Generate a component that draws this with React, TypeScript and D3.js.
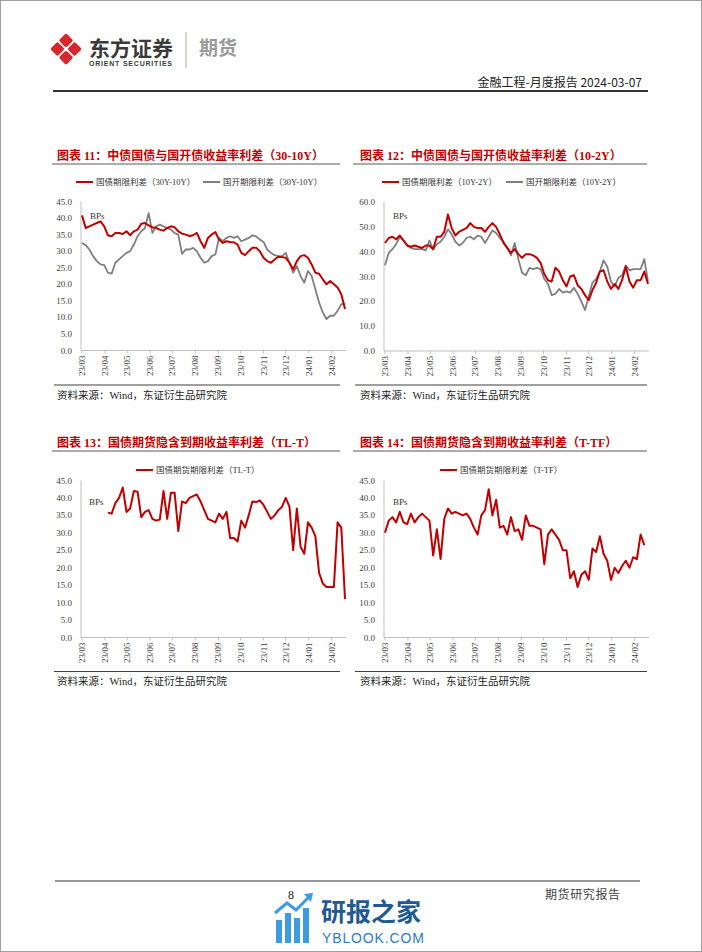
import React from 'react';
import * as d3 from 'd3';

// ---------- data ----------
// observations every 5 calendar days starting 2023-03-01
const START = new Date(2023, 2, 1);
const STEP_DAYS = 5;

const MONTH_TICKS = [
  '2023-03-01', '2023-04-01', '2023-05-01', '2023-06-01', '2023-07-01', '2023-08-01',
  '2023-09-01', '2023-10-01', '2023-11-01', '2023-12-01', '2024-01-01', '2024-02-01',
];
const MONTH_LABELS = ['23/03', '23/04', '23/05', '23/06', '23/07', '23/08', '23/09', '23/10', '23/11', '23/12', '24/01', '24/02'];

const Y_TICKS_45 = [0, 5, 10, 15, 20, 25, 30, 35, 40, 45];
const Y_TICKS_60 = [0, 10, 20, 30, 40, 50, 60];

// 图表11 30Y-10Y
const CGB_30_10 = [40.8, 37, 37.5, 38, 38.5, 39, 37.5, 34.8, 34.5, 35.5, 35.5, 35.2, 36, 34.8, 36, 36.5, 38.3, 38.5, 37.8, 37.2,
  37, 36.5, 36.2, 37, 37.5, 37.2, 36, 35.3, 35, 34.6, 34.8, 35.5, 33, 31, 34, 35, 35.8, 33.5, 32.5, 33,
  32.8, 32.7, 32, 29.5, 28.8, 30, 31, 31, 30, 28, 27, 26.5, 27.5, 28.3, 28.2, 28, 26.5, 24.5, 27, 28.5,
  28.8, 28, 26, 23.5, 23.2, 21.5, 20, 21, 20, 19, 17, 12.5];
const CDB_30_10 = [32.5, 31.8, 30.5, 28.5, 27, 26, 25.8, 23.5, 23.2, 26.5, 27.5, 28.5, 29.5, 30, 32, 34.5, 36, 37, 41.5, 35.5,
  37.5, 38, 37.5, 37, 36.5, 35.5, 35, 29.2, 30.5, 30.5, 31, 30, 28, 26.5, 27, 28.5, 29, 34, 33, 34,
  34.5, 34, 34.5, 33, 33.5, 34, 34.8, 34.5, 33.5, 32.8, 30.5, 29.5, 28.8, 28.5, 28.5, 29.5, 26.5, 23.5, 25.5, 22.5,
  20.5, 24, 22.5, 18.5, 14.5, 11.5, 9.5, 10.5, 10.5, 12, 14, 14];

// 图表12 10Y-2Y
const CGB_10_2 = [43.5, 45.5, 46, 45, 46.5, 44.5, 42.5, 42, 42.5, 42, 41.5, 42.5, 42.5, 41, 46, 46, 48, 55, 49.5, 46.5,
  48, 48.8, 49.5, 51.5, 50, 49.5, 49.5, 48, 50, 51.5, 50, 47, 43.5, 41.5, 39.5, 41, 39, 37.5, 39, 39,
  38.5, 37.5, 35.5, 31, 28.5, 28, 33.5, 32, 28.5, 26, 30, 30.5, 26.5, 25, 22.5, 20.5, 24.5, 27.5, 32, 32.5,
  28, 25, 27, 25, 28.5, 34, 28, 25.5, 28.5, 28.5, 32, 27];
const CDB_10_2 = [34.5, 39.5, 41, 43, 46, 44.5, 42.5, 41.5, 41, 41, 41, 40.5, 44.5, 41, 43, 44, 46, 49, 47, 44,
  42.5, 43.5, 45.5, 46, 45, 46.5, 46, 43.5, 46, 48.5, 47.5, 45.5, 44, 41.5, 38.5, 43.5, 37, 31.5, 30.5, 33.5,
  33, 33.5, 33, 29, 27, 22.5, 23, 25, 23.5, 24, 23.5, 25.5, 23, 20, 16.5, 22, 27.5, 29, 32, 36.5,
  34, 28, 26, 29.5, 30.5, 34.5, 32.5, 33, 33, 33, 37, 28];

// 图表13 TL-T (TL listed in April)
const TL_T = [null, null, null, null, null, null, null,
  35.8, 35.5, 38.5, 40, 43, 36, 37, 42, 41.8, 34.5, 36, 36.5, 34, 33.5, 33.8, 42, 34, 41.5, 41.5, 30.5, 39, 38.5, 40,
  40.5, 41, 39, 36.5, 34, 33.5, 33, 35.5, 34, 36, 28.5, 28.5, 27.5, 33.5, 31.5, 35, 39, 38.8, 39.3, 38,
  36, 34, 35, 36.5, 37.5, 40, 37.5, 25, 37, 26, 24, 33, 31.5, 29, 18.5, 15.5, 14.5, 14.5, 14.5, 33,
  31.5, 11];

// 图表14 T-TF
const T_TF = [30, 33.5, 34.5, 33, 36, 33, 32.5, 35.5, 33, 34.5, 35.5, 34.5, 33.5, 23.5, 31, 22.5, 34, 37, 35.5, 36,
  35.5, 35, 35.5, 34, 31.5, 29.5, 35, 36.5, 42.5, 35, 39.5, 31.5, 32, 29.5, 34.5, 30.5, 31, 28, 35, 32,
  32, 31.5, 31, 21, 29.5, 31, 29.5, 28, 25, 25, 17, 19, 14.5, 18, 19, 16.5, 25.5, 24.5, 29, 24,
  22, 16.5, 20, 18.5, 20.5, 22, 20, 23, 22.5, 29.5, 26.5];

// ---------- styles ----------
const RED = '#c00000';
const GRAY = '#7f7f7f';
const SERIF = '"Liberation Serif", "Times New Roman", "Noto Sans CJK SC", serif';
const SANS_CJK = '"Noto Sans CJK SC", "Liberation Sans", sans-serif';
const AXIS = '#bfbfbf';
const SOURCE = '资料来源：Wind，东证衍生品研究院';

const dateAt = (i: number) => d3.timeDay.offset(START, i * STEP_DAYS);

type Series = { name: string; values: (number | null)[]; color: string; width: number };
type LegendItem = { name: string; color: string; x: number };

function Chart(p: {
  ax: number; yTop: number; yBot: number; yMax: number; yTicks: number[];
  series: Series[]; title: string; titleX: number; titleY: number; ulX1: number; ulX2: number;
  legend: LegendItem[]; legendY: number; bpsX: number; bpsY: number; ruleY: number; sourceX: number; sourceY: number;
}) {
  const x = d3.scaleTime().domain([START, d3.timeDay.offset(START, 355)]).range([p.ax + 1, p.ax + 264]);
  const y = d3.scaleLinear().domain([0, p.yMax]).range([p.yBot, p.yTop]);
  const line = d3.line<number | null>()
    .defined((v) => v != null)
    .x((_, i) => x(dateAt(i)))
    .y((v) => y(v as number));
  const fmt = d3.format('.1f');
  return (
    <g>
      <text x={p.titleX} y={p.titleY} fill={RED} fontSize={12} fontWeight="bold" fontFamily={SERIF}>{p.title}</text>
      <line x1={p.ulX1} x2={p.ulX2} y1={p.titleY + 4.5} y2={p.titleY + 4.5} stroke="#595959" strokeWidth={1} />
      {p.legend.map((l) => (
        <g key={l.name}>
          <line x1={l.x} x2={l.x + 17} y1={p.legendY} y2={p.legendY} stroke={l.color} strokeWidth={2} />
          <text x={l.x + 20} y={p.legendY + 3} fontSize={8.5} fill="#333" fontFamily={SERIF}>{l.name}</text>
        </g>
      ))}
      <line x1={p.ax} x2={p.ax} y1={p.yTop} y2={p.yBot} stroke={AXIS} />
      <line x1={p.ax} x2={p.ax + 265} y1={p.yBot} y2={p.yBot} stroke={AXIS} />
      {p.yTicks.map((t) => (
        <text key={t} x={p.ax - 9} y={y(t) + 3} textAnchor="end" fontSize={9} fill="#404040" fontFamily={SERIF}>{fmt(t)}</text>
      ))}
      {MONTH_TICKS.map((d, i) => {
        const px = x(new Date(d + 'T00:00:00'));
        return (
          <g key={d}>
            <line x1={px} x2={px} y1={p.yBot} y2={p.yBot + 3} stroke={AXIS} />
            <text transform={`translate(${px + 3},${p.yBot + 5}) rotate(-90)`} textAnchor="end" fontSize={9} fill="#404040" fontFamily={SERIF}>{MONTH_LABELS[i]}</text>
          </g>
        );
      })}
      {p.series.map((s) => (
        <path key={s.name} d={line(s.values) || ''} fill="none" stroke={s.color} strokeWidth={s.width} strokeLinejoin="round" />
      ))}
      <text x={p.bpsX} y={p.bpsY} fontSize={9} fill="#333" fontFamily={SERIF}>BPs</text>
      <line x1={p.ulX1 + 2} x2={p.ulX2} y1={p.ruleY} y2={p.ruleY} stroke="#404040" strokeWidth={1.2} />
      <text x={p.sourceX} y={p.sourceY} fontSize={10.5} fill="#222" fontFamily={SERIF}>{SOURCE}</text>
    </g>
  );
}

function Logo() {
  const cx = 66, cy = 49, s = 5.2, off = 8.6;
  const pos = [[0, -off], [-off, 0], [off, 0], [0, off]];
  return (
    <g>
      {pos.map(([dx, dy], i) => (
        <rect key={i} x={-s} y={-s} width={2 * s} height={2 * s} rx={1.8} fill="#d7262e"
          transform={`translate(${cx + dx},${cy + dy}) rotate(45)`} />
      ))}
    </g>
  );
}

function Watermark() {
  const bars = [[276, 920], [285, 913], [294, 918], [303, 908]];
  return (
    <g>
      {bars.map(([bx, by], i) => (
        <rect key={i} x={bx} y={by} width={6} height={943 - by} fill="#3d9be0" />
      ))}
      <polyline points="275,913 287,903 296,910 309,897" fill="none" stroke="#3d9be0" strokeWidth={3} />
      <polygon points="304,894 313,893 311,902" fill="#3d9be0" />
      <text x={321} y={921} fontSize={25} fontWeight="bold" fill="#1f5a94" fontFamily={SANS_CJK}>研报之家</text>
      <text x={322} y={943} fontSize={14} fill="#2e7bc4" fontFamily='"Liberation Sans", sans-serif' textLength={102}>YBLOOK.COM</text>
    </g>
  );
}

export default function App() {
  return (
    <svg width={702} height={952} style={{ position: 'absolute', left: 0, top: 0, background: '#fff' }}>
      <rect x={0.5} y={0.5} width={701} height={951} fill="#fff" stroke="#a0a0a0" />
      {/* header */}
      <Logo />
      <text x={89} y={55.5} fontSize={21} fontWeight="bold" fill="#3a3a3a" fontFamily={SANS_CJK}>东方证券</text>
      <text x={89} y={66} fontSize={7} fontWeight="bold" fill="#3a3a3a" fontFamily='"Liberation Sans", sans-serif' textLength={83}>ORIENT SECURITIES</text>
      <line x1={186} x2={186} y1={32} y2={68} stroke="#cfc6b5" strokeWidth={1.5} />
      <text x={199} y={54.5} fontSize={19} fontWeight="bold" fill="#9a9a9a" fontFamily={SANS_CJK}>期货</text>
      <text x={642} y={87} textAnchor="end" fontSize={12} fill="#222" fontFamily={SANS_CJK}>金融工程-月度报告 2024-03-07</text>
      <line x1={53} x2={648} y1={91} y2={91} stroke="#333" strokeWidth={1.8} />

      <Chart ax={81} yTop={201.5} yBot={350.5} yMax={45} yTicks={Y_TICKS_45}
        series={[
          { name: 'cdb', values: CDB_30_10, color: GRAY, width: 1.8 },
          { name: 'cgb', values: CGB_30_10, color: RED, width: 2 },
        ]}
        title="图表 11：中债国债与国开债收益率利差（30-10Y）" titleX={57} titleY={159.5} ulX1={52} ulX2={340}
        legend={[{ name: '国债期限利差（30Y-10Y）', color: RED, x: 76 }, { name: '国开期限利差（30Y-10Y）', color: GRAY, x: 203 }]}
        legendY={182} bpsX={90} bpsY={219} ruleY={385} sourceX={57} sourceY={398.5} />

      <Chart ax={384} yTop={202} yBot={351} yMax={60} yTicks={Y_TICKS_60}
        series={[
          { name: 'cdb', values: CDB_10_2, color: GRAY, width: 1.8 },
          { name: 'cgb', values: CGB_10_2, color: RED, width: 2 },
        ]}
        title="图表 12：中债国债与国开债收益率利差（10-2Y）" titleX={360} titleY={159.5} ulX1={353} ulX2={647}
        legend={[{ name: '国债期限利差（10Y-2Y）', color: RED, x: 382 }, { name: '国开期限利差（10Y-2Y）', color: GRAY, x: 506 }]}
        legendY={182} bpsX={393} bpsY={219} ruleY={385} sourceX={360} sourceY={398.5} />

      <Chart ax={81} yTop={480.5} yBot={637.5} yMax={45} yTicks={Y_TICKS_45}
        series={[{ name: 'tlt', values: TL_T, color: RED, width: 2 }]}
        title="图表 13：国债期货隐含到期收益率利差（TL-T）" titleX={57} titleY={446.5} ulX1={52} ulX2={340}
        legend={[{ name: '国债期货期限利差（TL-T）', color: RED, x: 136 }]}
        legendY={470} bpsX={89} bpsY={505} ruleY={671.5} sourceX={57} sourceY={685} />

      <Chart ax={384} yTop={480.5} yBot={637.5} yMax={45} yTicks={Y_TICKS_45}
        series={[{ name: 'ttf', values: T_TF, color: RED, width: 2 }]}
        title="图表 14：国债期货隐含到期收益率利差（T-TF）" titleX={360} titleY={446.5} ulX1={353} ulX2={647}
        legend={[{ name: '国债期货期限利差（T-TF）', color: RED, x: 440 }]}
        legendY={470} bpsX={393} bpsY={505} ruleY={671.5} sourceX={360} sourceY={685} />

      {/* footer */}
      <line x1={55} x2={640} y1={881} y2={881} stroke="#333" strokeWidth={1.2} />
      <text x={288} y={899} fontSize={12} fill="#222" fontFamily={SERIF}>8</text>
      <text x={545} y={899} fontSize={12} fill="#444" fontFamily={SERIF} letterSpacing={0.6}>期货研究报告</text>
      <Watermark />
    </svg>
  );
}
